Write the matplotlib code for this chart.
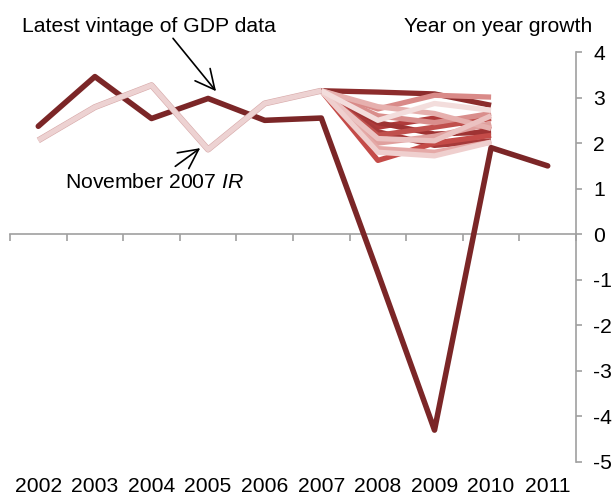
import numpy as np
import matplotlib
matplotlib.use("Agg")
import matplotlib.pyplot as plt
import matplotlib.patheffects as pe

plt.rcParams['font.family'] = ['Liberation Sans', 'DejaVu Sans']
plt.rcParams['axes.unicode_minus'] = False
plt.rcParams['mathtext.fontset'] = 'custom'
plt.rcParams['mathtext.it'] = 'Liberation Sans:italic'
plt.rcParams['mathtext.rm'] = 'Liberation Sans'

# ---------------------- DATA ----------------------

years = [2002, 2003, 2004, 2005, 2006, 2007, 2008, 2009, 2010, 2011]
latest_gdp = [2.37, 3.46, 2.54, 2.98, 2.50, 2.55, -0.85, -4.30, 1.90, 1.50]

nov07_years = [2002, 2003, 2004, 2005, 2006, 2007]
nov07_ir = [2.06, 2.79, 3.27, 1.86, 2.87, 3.15]

# later forecast vintages, 2007-2010
fan_years = [2007, 2008, 2009, 2010]
fan_1 = [3.15, 3.12, 3.08, 2.83]
fan_2 = [3.15, 2.35, 2.55, 2.30]
fan_3 = [3.15, 2.45, 2.20, 2.24]
fan_4 = [3.15, 2.25, 1.95, 2.05]
fan_5 = [3.15, 2.17, 2.35, 2.54]
fan_6 = [3.15, 1.62, 2.00, 2.17]
fan_7 = [3.15, 2.60, 2.45, 2.65]
fan_8 = [3.15, 2.75, 3.05, 3.01]
fan_9 = [3.15, 2.00, 2.15, 2.43]
fan_10 = [3.15, 2.80, 2.65, 2.32]
fan_11 = [3.15, 1.88, 1.80, 2.02]
fan_12 = [3.15, 2.10, 2.05, 2.60]
fan_13 = [3.15, 1.80, 1.72, 2.02]
fan_14 = [3.15, 2.50, 2.87, 2.72]
fan_series = [fan_1, fan_2, fan_3, fan_4, fan_5, fan_6, fan_7,
              fan_8, fan_9, fan_10, fan_11, fan_12, fan_13, fan_14]
fan_colors = ['#8C2C2C', '#B03B3B', '#9E3333', '#A63A3A', '#C0504D', '#C44B48',
              '#D98E8C', '#D98A88', '#E0A09E', '#E6B0AE', '#E5A9A7', '#EBC2C1',
              '#EFCFCE', '#F3DDDC']

y_ticks = [-5, -4, -3, -2, -1, 0, 1, 2, 3, 4]

# ---------------------- CHART ----------------------

dark = '#7B2627'
grey = '#A0A0A0'

fig = plt.figure(figsize=(6.16, 4.96), dpi=100)
ax = fig.add_axes([10 / 616, 1 - 462 / 496, 566 / 616, 410 / 496])

for vals, col in zip(fan_series, fan_colors):
    ax.plot(fan_years, vals, color=col, lw=3.8, solid_joinstyle='round',
            solid_capstyle='butt', zorder=2)

ax.plot(years, latest_gdp, color=dark, lw=4.0, solid_joinstyle='round',
        solid_capstyle='round', zorder=3)
ax.plot(nov07_years, nov07_ir, color='#EDD2D2', lw=3.6, solid_joinstyle='round',
        solid_capstyle='butt', zorder=4,
        path_effects=[pe.Stroke(linewidth=4.4, foreground='#D7A9A9'), pe.Normal()])

ax.set_xlim(2001.5, 2011.5)
ax.set_ylim(-5, 4)

# axes styling
for s in ['top', 'left']:
    ax.spines[s].set_visible(False)
ax.spines['right'].set_color(grey)
ax.spines['right'].set_linewidth(1.2)
ax.spines['bottom'].set_position(('data', 0))
ax.spines['bottom'].set_color(grey)
ax.spines['bottom'].set_linewidth(1.2)

ax.yaxis.tick_right()
ax.set_yticks(y_ticks)
ax.set_yticklabels([str(t) for t in y_ticks])
ax.tick_params(axis='y', direction='out', length=4.5, width=1.2, color=grey,
               pad=8, labelsize=15.2)

ax.set_xticks(np.arange(2001.5, 2012, 1.0))
ax.tick_params(axis='x', direction='out', length=5, width=1.2, color=grey,
               labelbottom=False)

sec = ax.secondary_xaxis(0.0)
sec.spines['bottom'].set_visible(False)
sec.set_xticks(years)
sec.set_xticklabels([str(y) for y in years])
sec.tick_params(axis='x', length=0, pad=10.5, labelsize=15.2)

# annotations
fig.text(22 / 616, 1 - 27 / 496, 'Latest vintage of GDP data', fontsize=15.2,
         ha='left', va='center')
fig.text(592 / 616, 1 - 27 / 496, 'Year on year growth', fontsize=15.2,
         ha='right', va='center')
fig.text(65 / 616, 1 - 183 / 496, r'November 2007 $\mathit{IR}$', fontsize=15.2,
         ha='left', va='center')

arrow_style = dict(arrowstyle='->,head_length=0.7,head_width=0.35', color='black',
                   lw=1.2, mutation_scale=20, shrinkA=0, shrinkB=0)
ax.annotate('', xy=(2005.14, 3.14), xytext=(2004.38, 4.30),
            arrowprops=arrow_style, annotation_clip=False)
ax.annotate('', xy=(2004.86, 1.89), xytext=(2004.42, 1.49),
            arrowprops=arrow_style, annotation_clip=False)

fig.savefig('out.png', dpi=100)
